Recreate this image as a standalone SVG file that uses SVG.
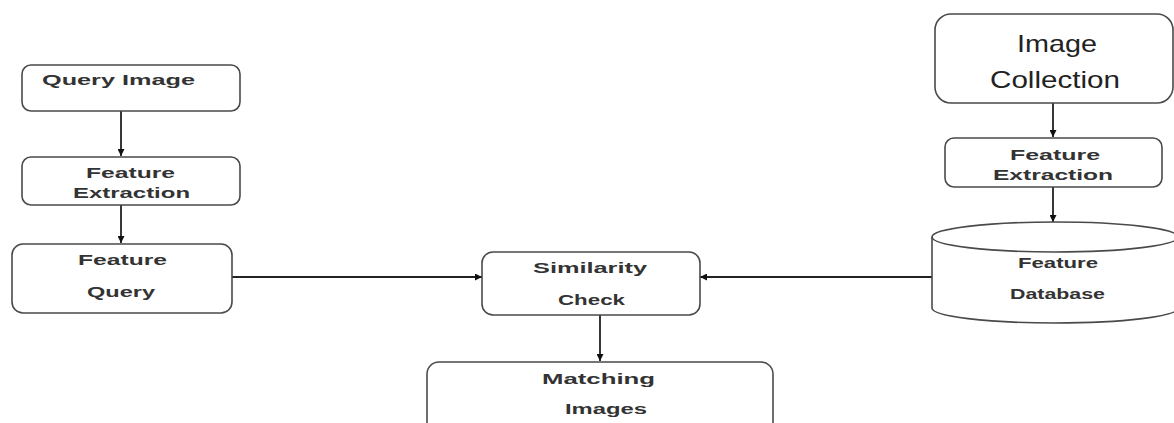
<svg xmlns="http://www.w3.org/2000/svg" width="1174" height="423" viewBox="0 0 1174 423">
<style>
.box{fill:#fff;stroke:#4a4a4a;stroke-width:1.6}
.t{font-family:"Liberation Sans",Arial,sans-serif;font-weight:bold;font-size:14px;fill:#333}
.big{font-family:"Liberation Sans",Arial,sans-serif;font-size:24px;fill:#222}
.c{fill:none;stroke:#222;stroke-width:1.8}
</style>
<defs>
<marker id="ah" viewBox="0 0 10 10" refX="10" refY="5" markerWidth="7" markerHeight="7" markerUnits="userSpaceOnUse" orient="auto">
<path d="M0,0 L10,5 L0,10 z" fill="#111"/>
</marker>
</defs>
<rect width="1174" height="423" fill="#fff"/>
<g id="connectors">
<line class="c" x1="121" y1="111" x2="121" y2="156" marker-end="url(#ah)"/>
<line class="c" x1="121" y1="205" x2="121" y2="243" marker-end="url(#ah)"/>
<line class="c" x1="232" y1="277" x2="482" y2="277" marker-end="url(#ah)"/>
<line class="c" x1="932" y1="277" x2="700" y2="277" marker-end="url(#ah)"/>
<line class="c" x1="1053" y1="103" x2="1053" y2="137" marker-end="url(#ah)"/>
<line class="c" x1="1053" y1="187" x2="1053" y2="222" marker-end="url(#ah)"/>
<line class="c" x1="600" y1="315" x2="600" y2="361" marker-end="url(#ah)"/>
</g>
<g id="query-image">
<rect class="box" x="22" y="65" width="218" height="46" rx="9"/>
<text class="t" x="42" y="85" textLength="153" lengthAdjust="spacingAndGlyphs">Query Image</text>
</g>
<g id="feature-extraction-left">
<rect class="box" x="22" y="157" width="218" height="48" rx="9"/>
<text class="t" x="86" y="178" textLength="89" lengthAdjust="spacingAndGlyphs">Feature</text>
<text class="t" x="73" y="198" textLength="117" lengthAdjust="spacingAndGlyphs">Extraction</text>
</g>
<g id="feature-query">
<rect class="box" x="12" y="244" width="220" height="69" rx="11"/>
<text class="t" x="78" y="265" textLength="89" lengthAdjust="spacingAndGlyphs">Feature</text>
<text class="t" x="87" y="297" textLength="68" lengthAdjust="spacingAndGlyphs">Query</text>
</g>
<g id="similarity-check">
<rect class="box" x="482" y="252" width="218" height="63" rx="11"/>
<text class="t" x="533" y="273" textLength="114" lengthAdjust="spacingAndGlyphs">Similarity</text>
<text class="t" x="558" y="305" textLength="67" lengthAdjust="spacingAndGlyphs">Check</text>
</g>
<g id="matching-images">
<rect class="box" x="427" y="362" width="346" height="80" rx="12"/>
<text class="t" x="542" y="384" textLength="113" lengthAdjust="spacingAndGlyphs">Matching</text>
<text class="t" x="565" y="414" textLength="82" lengthAdjust="spacingAndGlyphs">Images</text>
</g>
<g id="image-collection">
<rect class="box" x="935" y="14" width="238" height="89" rx="16"/>
<text class="big" x="1017" y="52" textLength="80" lengthAdjust="spacingAndGlyphs">Image</text>
<text class="big" x="990" y="88" textLength="130" lengthAdjust="spacingAndGlyphs">Collection</text>
</g>
<g id="feature-extraction-right">
<rect class="box" x="945" y="138" width="217" height="49" rx="9"/>
<text class="t" x="1010" y="160" textLength="90" lengthAdjust="spacingAndGlyphs">Feature</text>
<text class="t" x="993" y="180" textLength="120" lengthAdjust="spacingAndGlyphs">Extraction</text>
</g>
<g id="feature-database">
<path class="box" d="M932,237 L932,308 A123,15 0 0 0 1178,308 L1178,237"/>
<ellipse class="box" cx="1055" cy="237" rx="123" ry="15"/>
<text class="t" x="1018" y="268" textLength="80" lengthAdjust="spacingAndGlyphs">Feature</text>
<text class="t" x="1010" y="299" textLength="95" lengthAdjust="spacingAndGlyphs">Database</text>
</g>
</svg>
